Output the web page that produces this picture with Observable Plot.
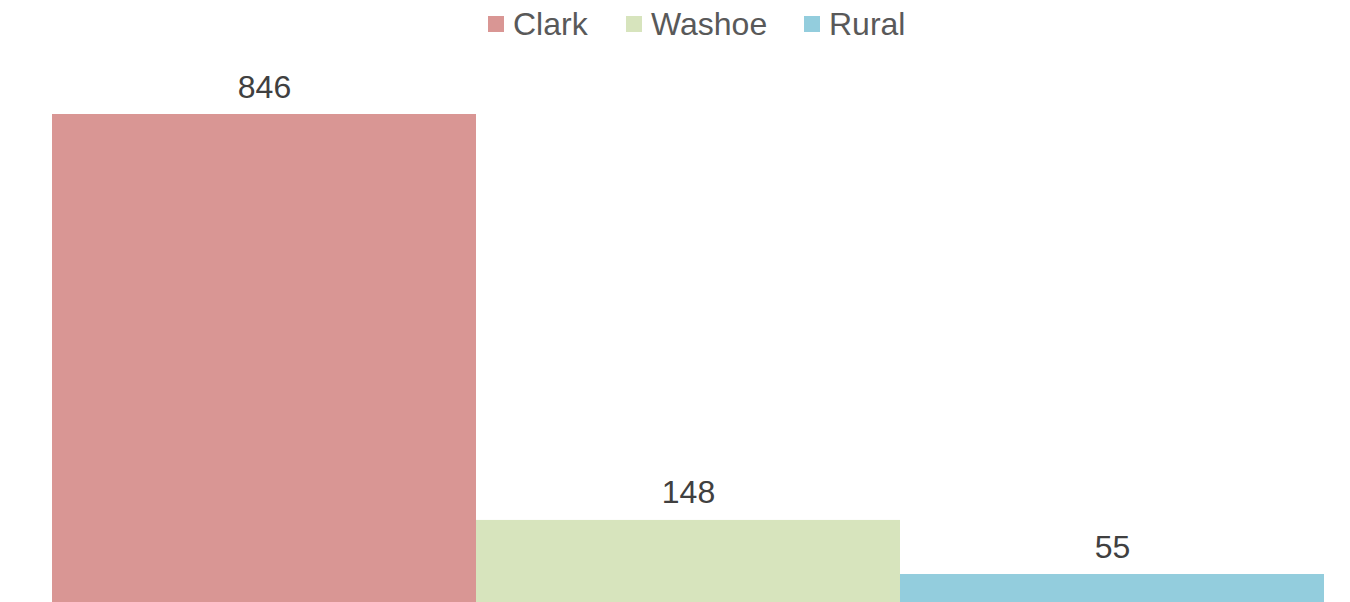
<!DOCTYPE html>
<html>
<head>
<meta charset="utf-8">
<script src="https://cdn.jsdelivr.net/npm/d3@7"></script>
<script src="https://cdn.jsdelivr.net/npm/@observablehq/plot@0.6"></script>
<style>
  html, body { margin: 0; padding: 0; background: #fff; overflow: hidden; width: 1350px; height: 602px; }
  body { font-family: "Liberation Sans", Arial, sans-serif; }
  #legend { height: 50px; position: relative; }
  .item { position: absolute; top: 0; display: flex; align-items: center; height: 50px; font-size: 32px; color: #595959; }
  .sw { width: 16px; height: 16px; margin-right: 9px; margin-top: 0px; }
  #chart svg { display: block; }
</style>
</head>
<body>
<div id="legend"></div>
<div id="chart"></div>
<script>
const regions = ["Clark", "Washoe", "Rural"];
const counts = [846, 148, 55];
const colors = ["#D99694", "#D7E4BD", "#93CDDD"];

const data = regions.map((r, i) => ({region: r, value: counts[i]}));

// legend
const legend = document.getElementById("legend");
const legendX = [488, 626, 804];
regions.forEach((r, i) => {
  const d = document.createElement("div");
  d.className = "item";
  d.style.left = legendX[i] + "px";
  d.style.top = "-1px";
  const s = document.createElement("span");
  s.className = "sw";
  s.style.background = colors[i];
  d.appendChild(s);
  d.appendChild(document.createTextNode(r));
  legend.appendChild(d);
});

const chart = Plot.plot({
  width: 1350,
  height: 556,
  marginTop: 64,
  marginBottom: 0,
  marginLeft: 52,
  marginRight: 26,
  x: {domain: regions, padding: 0, axis: null},
  y: {domain: [0, 846], axis: null},
  color: {domain: regions, range: colors},
  style: {fontFamily: "Liberation Sans, Arial, sans-serif", background: "#fff"},
  marks: [
    Plot.barY(data, {x: "region", y: "value", fill: "region"}),
    Plot.text(data, {x: "region", y: "value", text: d => String(d.value), lineAnchor: "bottom", dy: -17, fontSize: 32, fill: "#404040"})
  ]
});
document.getElementById("chart").appendChild(chart);
</script>
</body>
</html>
